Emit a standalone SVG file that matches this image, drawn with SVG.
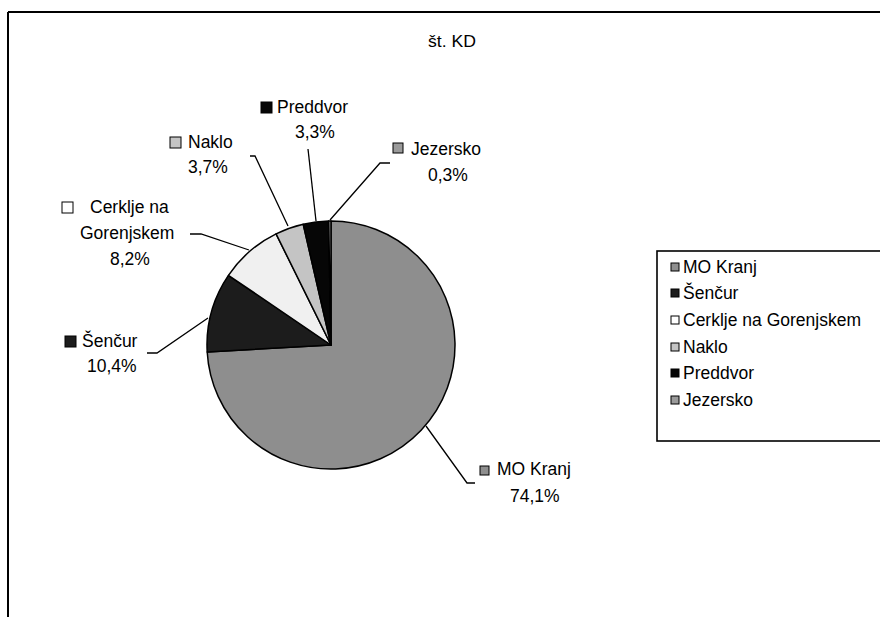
<svg xmlns="http://www.w3.org/2000/svg" width="880" height="617" viewBox="0 0 880 617">
<style>
.t{font-family:"Liberation Sans",Arial,sans-serif;font-size:17.5px;fill:#000}
.lead{stroke:#000;stroke-width:1.3;fill:none}
.sl{stroke:#000;stroke-width:1.5;stroke-linejoin:round}
.mk{stroke:#000;stroke-width:1}
.frame{stroke:#000;stroke-width:2;fill:none}
.c-mo{fill:#8e8e8e}
.c-se{fill:#1c1c1c}
.c-ce{fill:#f0f0f0}
.c-na{fill:#c4c4c4}
.c-pr{fill:#060606}
.c-je{fill:#9a9a9a}
</style>
<rect x="0" y="0" width="880" height="617" fill="#fff"/>
<g id="frame">
<path class="frame" d="M8,12 H880 M8,12 V617"/>
</g>
<g id="title">
<text class="t" x="428" y="47" style="font-size:16px" textLength="48" lengthAdjust="spacingAndGlyphs">št. KD</text>
</g>
<g id="connectors">
<path class="lead" d="M475,483 H467 L426,426"/>
<path class="lead" d="M147,353 H157 L208,318"/>
<path class="lead" d="M190,234 H201 L249,250"/>
<path class="lead" d="M250,156 H255 L288,226"/>
<path class="lead" d="M308,149 L316,221"/>
<path class="lead" d="M390,163 H380 L330,220"/>
</g>
<g id="mo-kranj">
<path class="sl c-mo" d="M331,345 L331,221 A124,124 0 1,1 207.2,352.01 Z"/>
<rect class="mk c-mo" x="480" y="466" width="9" height="9"/>
<text class="t" x="497" y="475">MO Kranj</text>
<text class="t" x="510" y="502">74,1%</text>
</g>
<g id="sencur">
<path class="sl c-se" d="M331,345 L207.2,352.01 A124,124 0 0,1 228.44,275.3 Z"/>
<rect class="mk c-se" x="65" y="336" width="11" height="11"/>
<text class="t" x="82" y="347">Šenčur</text>
<text class="t" x="87" y="372">10,4%</text>
</g>
<g id="cerklje">
<path class="sl c-ce" d="M331,345 L228.44,275.3 A124,124 0 0,1 276.09,233.82 Z"/>
<rect class="mk" fill="#fff" x="62" y="202" width="11" height="11"/>
<text class="t" x="90" y="213">Cerklje na</text>
<text class="t" x="80" y="239">Gorenjskem</text>
<text class="t" x="110" y="265">8,2%</text>
</g>
<g id="naklo">
<path class="sl c-na" d="M331,345 L276.09,233.82 A124,124 0 0,1 303.19,224.16 Z"/>
<rect class="mk c-na" x="170" y="137" width="11" height="11"/>
<text class="t" x="188" y="148">Naklo</text>
<text class="t" x="188" y="173">3,7%</text>
</g>
<g id="preddvor">
<path class="sl c-pr" d="M331,345 L303.19,224.16 A124,124 0 0,1 328.66,221.02 Z"/>
<rect class="mk c-pr" x="261" y="102" width="11" height="11"/>
<text class="t" x="277" y="113">Preddvor</text>
<text class="t" x="295" y="138">3,3%</text>
</g>
<g id="jezersko">
<path class="sl c-je" d="M331,345 L328.66,221.02 A124,124 0 0,1 331,221 Z"/>
<rect class="mk c-je" x="393" y="143" width="10" height="10"/>
<text class="t" x="411" y="155">Jezersko</text>
<text class="t" x="428" y="181">0,3%</text>
</g>
<g id="legend">
<rect x="657" y="251" width="240" height="190" fill="#fff" stroke="#000" stroke-width="1.6"/>
<rect class="mk c-mo" x="671" y="263" width="8" height="8"/>
<text class="t" x="683" y="273">MO Kranj</text>
<rect class="mk c-se" x="671" y="289" width="8" height="8"/>
<text class="t" x="683" y="299">Šenčur</text>
<rect class="mk" fill="#fff" x="671" y="316" width="8" height="8"/>
<text class="t" x="683" y="326">Cerklje na Gorenjskem</text>
<rect class="mk c-na" x="671" y="343" width="8" height="8"/>
<text class="t" x="683" y="353">Naklo</text>
<rect class="mk c-pr" x="671" y="369" width="8" height="8"/>
<text class="t" x="683" y="379">Preddvor</text>
<rect class="mk c-je" x="671" y="396" width="8" height="8"/>
<text class="t" x="683" y="406">Jezersko</text>
</g>
</svg>
